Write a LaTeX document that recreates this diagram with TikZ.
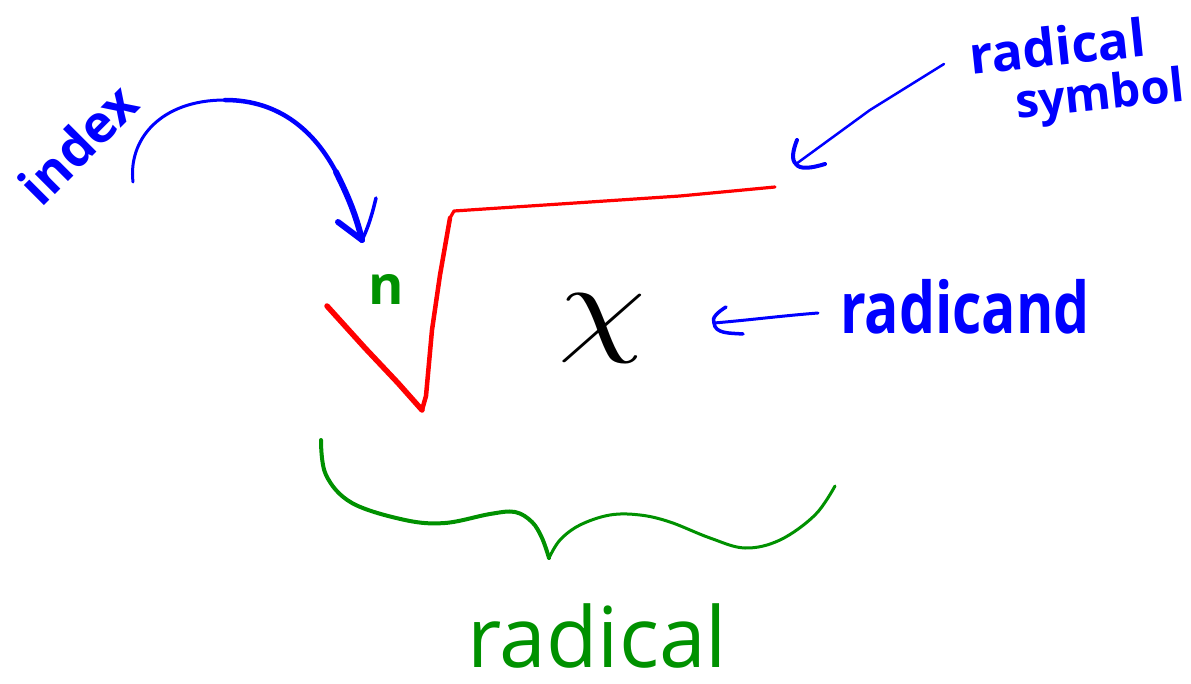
\documentclass[tikz,border=0pt]{standalone}
\usepackage{fontspec}
\setmainfont{Open Sans}
\usepackage{graphicx}
\definecolor{inkblue}{RGB}{0,0,255}
\definecolor{inkred}{RGB}{255,0,0}
\definecolor{inkgreen}{RGB}{0,145,0}
\tikzset{
  ink/.style={line cap=round, line join=round},
  blueink/.style={ink, draw=inkblue},
  redink/.style={ink, draw=inkred},
  greenink/.style={ink, draw=inkgreen},
  bluelabel/.style={text=inkblue, inner sep=0pt},
  greenlabel/.style={text=inkgreen, inner sep=0pt},
}
\begin{document}
\begin{tikzpicture}[x=1pt,y=-1pt]
\useasboundingbox (0,0) rectangle (1191,684);
\fill[white] (0,0) rectangle (1191,684);

% labels
\node[bluelabel, rotate=45, font=\fontsize{52}{52}\selectfont\bfseries] (index) at (78,144) {index};
\node[bluelabel, rotate=6, font=\fontsize{52}{52}\selectfont\bfseries] (rs1) at (1057,46) {radical};
\node[bluelabel, rotate=6, font=\fontsize{47}{47}\selectfont\bfseries] (rs2) at (1100,98) {symbol};
\node[bluelabel, font=\fontsize{57}{57}\selectfont\bfseries] (radicand) at (965,307) {\scalebox{1}[1.25]{radicand}};
\node[greenlabel, font=\fontsize{84}{84}\selectfont] (radical) at (597,636) {radical};
\node[greenlabel, font=\fontsize{54}{54}\selectfont\bfseries] (n) at (386,289) {n};
\node[inner sep=0pt] (x) at (602,329) {\scalebox{14}[11]{$\chi$}};

% radical sign
\coordinate (rL) at (327,306);
\coordinate (rB) at (422,410);
\coordinate (rC) at (454,211);
\coordinate (rR) at (775,187);
\draw[redink, line width=5.5] (rL) -- (365,348) -- (398,383) -- (rB);
\draw[redink, line width=4.5] (rB) -- (426,396) -- (432,330) -- (440,275) -- (450,218);
\draw[redink, line width=3.2] (450,218) -- (rC) -- (560,204) -- (680,196) -- (rR);

% index arrow
\coordinate (idxS) at (133,182);
\coordinate (idxT) at (362,240);
\draw[blueink, line width=3] (idxS) .. controls (128,140) and (160,100) .. (225,100);
\draw[blueink, line width=4.5] (225,100) .. controls (280,100) and (315,132) .. (336,172);
\draw[blueink, line width=6] (336,172) .. controls (348,196) and (356,215) .. (idxT);
\draw[blueink, line width=6] (338,222) -- (idxT);
\draw[blueink, line width=3.5] (376,198) .. controls (372,215) and (368,228) .. (idxT);

% radical symbol arrow
\coordinate (rsS) at (944,64);
\coordinate (rsT) at (796,164);
\draw[blueink, line width=2.5] (rsS) -- (870,110) -- (rsT);
\draw[blueink, line width=4] (797,140) .. controls (793,150) and (791,160) .. (rsT) .. controls (800,170) and (812,168) .. (825,164);

% radicand arrow
\coordinate (rcS) at (818,313);
\coordinate (rcT) at (714,323);
\draw[blueink, line width=3] (rcS) .. controls (780,316) and (750,320) .. (rcT);
\draw[blueink, line width=3.5] (726,307) .. controls (718,312) and (711,318) .. (rcT) .. controls (715,334) and (730,333) .. (743,334);

% brace
\coordinate (bL) at (321,440);
\coordinate (bT) at (549,558);
\coordinate (bR) at (835,486);
\draw[greenink, line width=4] plot[smooth, tension=0.6] coordinates {(bL) (326,475) (352,503) (405,520) (445,523) (490,514) (515,512) (532,522) (542,538) (bT)};
\draw[greenink, line width=3] plot[smooth, tension=0.6] coordinates {(bT) (560,540) (580,525) (610,515) (640,515) (670,522) (710,538) (745,548) (780,540) (815,515) (bR)};
\end{tikzpicture}
\end{document}
